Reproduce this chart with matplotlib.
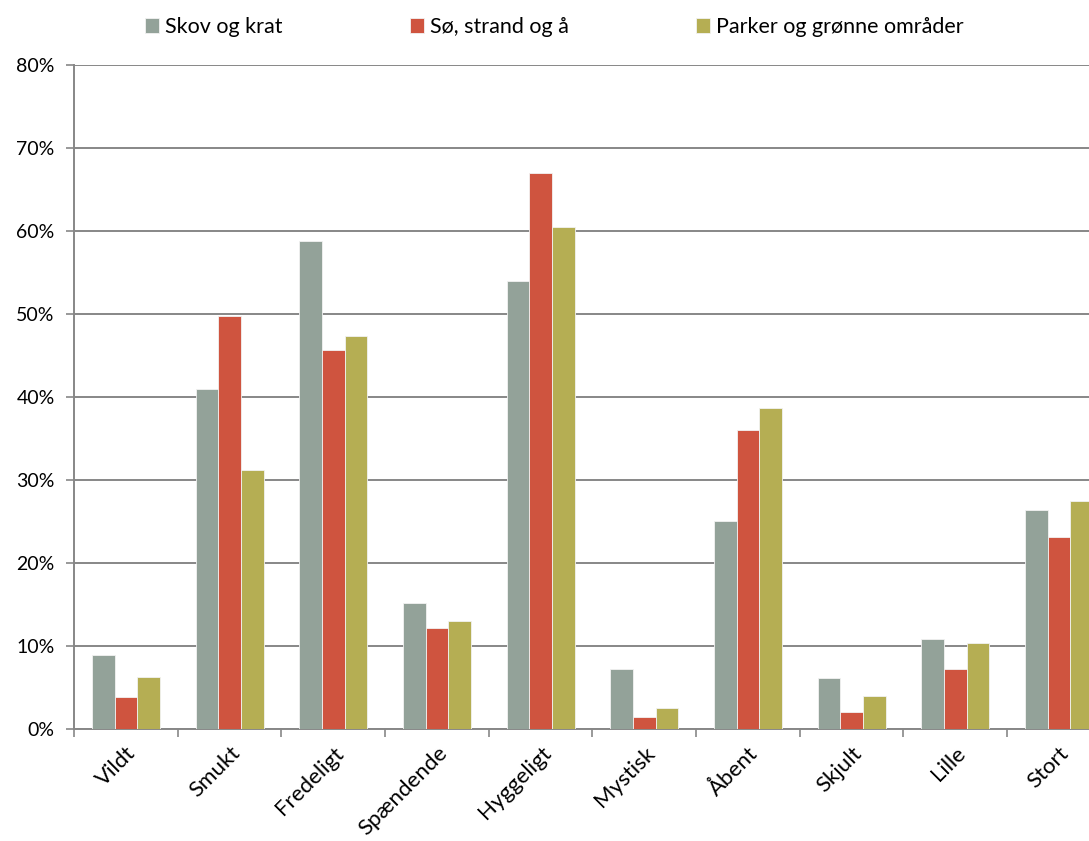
import matplotlib.pyplot as plt
import numpy as np
from matplotlib.ticker import PercentFormatter

# Andel af svar pr. ord for hver type natur (%)
ord_labels = ['Vildt', 'Smukt', 'Fredeligt', 'Spændende', 'Hyggeligt',
              'Mystisk', 'Åbent', 'Skjult', 'Lille', 'Stort']
skov = [8.9, 40.9, 58.8, 15.2, 53.9, 7.2, 25.1, 6.1, 10.8, 26.4]
soe = [3.9, 49.7, 45.6, 12.2, 67.0, 1.4, 36.0, 2.0, 7.2, 23.1]
parker = [6.3, 31.2, 47.3, 13.0, 60.5, 2.5, 38.7, 4.0, 10.4, 27.5]

series_names = ['Skov og krat', 'Sø, strand og å', 'Parker og grønne områder']
colors = ['#93A299', '#CF543F', '#B5AE53']

plt.rcParams['font.family'] = ['Lato', 'DejaVu Sans']

fig = plt.figure(figsize=(10.89, 8.41), dpi=100)
ax = fig.add_axes([0.068, 0.1332, 0.952, 0.79])

x = np.arange(len(ord_labels))
w = 0.219
for i, (vals, name, c) in enumerate(zip([skov, soe, parker], series_names, colors)):
    ax.bar(x + (i - 1) * w, vals, width=w, color=c, edgecolor='#f2f2f2',
           linewidth=0.6, label=name, zorder=3)

ax.set_xlim(-0.5, len(ord_labels) - 0.5)
ax.set_ylim(0, 80)
ax.set_yticks(np.arange(0, 81, 10))
ax.yaxis.set_major_formatter(PercentFormatter(decimals=0))
ax.grid(axis='y', color='#878787', linewidth=1.4, zorder=0)

# category ticks sit between the groups
ax.set_xticks(np.arange(-0.5, len(ord_labels), 1))
ax.set_xticklabels([])
ax.set_xticks(x, minor=True)
ax.set_xticklabels(ord_labels, minor=True, rotation=45, ha='right',
                   rotation_mode='anchor', fontsize=16)
ax.tick_params(axis='x', which='minor', length=0, pad=10)
ax.tick_params(axis='x', which='major', length=6, color='#878787', width=1.2)
ax.tick_params(axis='y', length=6, color='#878787', width=1.2, labelsize=14, pad=8)

for side in ['top', 'right']:
    ax.spines[side].set_visible(False)
for side in ['left', 'bottom']:
    ax.spines[side].set_color('#878787')
    ax.spines[side].set_linewidth(1.4)

fig.legend(loc='center', bbox_to_anchor=(0.509, 0.968), ncol=3,
           frameon=False, fontsize=15.5, handlelength=0.65, handleheight=0.65,
           handletextpad=0.3, columnspacing=5.9)

fig.savefig('out.png', dpi=100)
